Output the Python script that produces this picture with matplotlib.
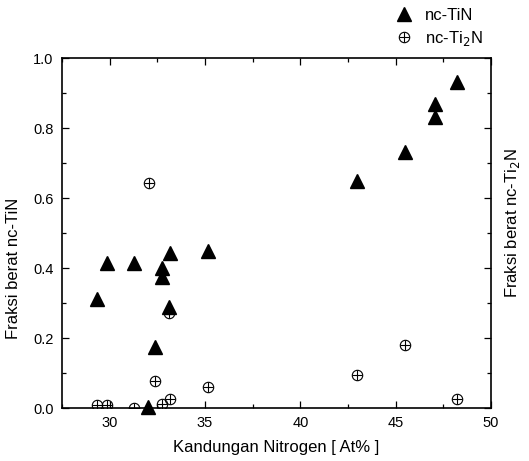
import matplotlib
matplotlib.use("Agg")
import matplotlib.pyplot as plt
from matplotlib.ticker import MultipleLocator
from matplotlib.lines import Line2D

plt.rcParams['font.family'] = ['Liberation Sans', 'DejaVu Sans']

# nc-TiN weight fraction
tin_x = [29.35, 29.87, 31.27, 32.77, 32.77, 33.15, 33.09, 35.16, 32.38, 32.02, 42.95, 45.49, 47.07, 47.07, 48.2]
tin_y = [0.311, 0.415, 0.413, 0.399, 0.373, 0.443, 0.288, 0.449, 0.174, 0.004, 0.649, 0.732, 0.832, 0.868, 0.932]

# nc-Ti2N weight fraction
ti2n_x = [29.35, 29.87, 31.27, 32.38, 32.74, 33.15, 33.09, 35.16, 32.05, 42.95, 45.49, 48.2]
ti2n_y = [0.009, 0.009, 0.0, 0.078, 0.011, 0.025, 0.272, 0.061, 0.644, 0.095, 0.18, 0.025]

xticks = [30, 35, 40, 45, 50]
yticks = [0.0, 0.2, 0.4, 0.6, 0.8, 1.0]

fig = plt.figure(figsize=(5.29, 4.61), dpi=100)
ax = fig.add_axes([62/529, 1 - 408/461, (491-62)/529, (408-58)/461])

ax.plot(tin_x, tin_y, linestyle='none', marker='^', ms=9.5, color='black', clip_on=False, zorder=3)
ax.plot(ti2n_x, ti2n_y, linestyle='none', marker='o', ms=7.5, mfc='none', mec='black', mew=0.8, zorder=4)
ax.plot(ti2n_x, ti2n_y, linestyle='none', marker='+', ms=7.5, color='black', mew=0.8, zorder=4)

ax.set_xlim(27.5, 50)
ax.set_ylim(0, 1.0)
ax.set_xticks(xticks)
ax.set_yticks(yticks)
ax.set_yticklabels([f"{v:.1f}" for v in yticks])
ax.xaxis.set_minor_locator(MultipleLocator(2.5))
ax.yaxis.set_minor_locator(MultipleLocator(0.1))
ax.tick_params(which='both', direction='in', top=True, right=True, labelsize=10.5, width=0.9, pad=6)
ax.tick_params(which='major', length=5)
ax.tick_params(which='minor', length=3)
for s in ax.spines.values():
    s.set_linewidth(1.2)

ax.set_xlabel("Kandungan Nitrogen [ At% ]", fontsize=12)
ax.set_ylabel("Fraksi berat nc-TiN", fontsize=12)
ax.yaxis.set_label_coords(-0.096, 0.40)
ax.xaxis.set_label_coords(0.5, -0.091)

ax.text(1.049, 0.53, "Fraksi berat nc-Ti$_2$N", transform=ax.transAxes, rotation=90,
        ha='center', va='center', fontsize=12)

h1 = Line2D([], [], linestyle='none', marker='^', ms=9.5, color='black')
h2c = Line2D([], [], linestyle='none', marker='o', ms=7.5, mfc='none', mec='black', mew=0.8)
h2p = Line2D([], [], linestyle='none', marker='+', ms=7.5, color='black', mew=0.8)
fig.legend([h1, (h2c, h2p)], ["nc-TiN", "nc-Ti$_2$N"], loc='center left',
           bbox_to_anchor=(383/529, 1 - 28/461), frameon=False, fontsize=12,
           handlelength=1.5, handletextpad=0.5, labelspacing=0.4, borderpad=0)

fig.savefig("out.png", dpi=100)
